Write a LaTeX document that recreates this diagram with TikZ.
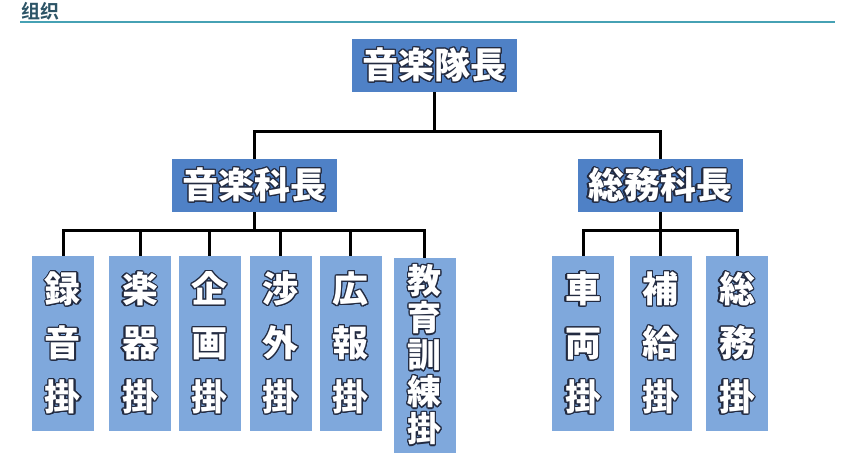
\documentclass[tikz,border=0pt]{standalone}
\usepackage{fontspec}
\usepackage[copies]{contour}
\newfontfamily\jpfont{Noto Sans CJK JP Black}
\newfontfamily\scfont{Noto Sans CJK SC Bold}
\definecolor{headblue}{HTML}{4F81C6}
\definecolor{leafblue}{HTML}{7FA8DC}
\definecolor{rimcol}{HTML}{222A40}
\definecolor{rulecol}{HTML}{46A1B4}
\definecolor{titlecol}{HTML}{2C5466}
\contourlength{1.3pt}
\newcommand\hl[1]{\contour{rimcol}{#1}}

\begin{document}
\begin{tikzpicture}[x=1pt,y=-1pt,
  head/.style={fill=headblue,text=white,font=\jpfont\fontsize{36}{36}\selectfont,
    minimum width=165pt,minimum height=53pt,inner sep=0pt},
  leaf/.style={fill=leafblue,text=white,minimum width=62pt,inner sep=0pt,align=center},
  link/.style={line width=3pt}]
\useasboundingbox (0,0) rectangle (868,461);
\node[text=titlecol,font=\scfont\fontsize{19}{19}\selectfont,anchor=west,inner sep=0pt] (title) at (21,11) {组织};
\draw[rulecol,line width=2pt] (20,22) -- (835,22);
\node[head] (chief) at (434.5,65.5) {\hl{音楽隊長}};
\node[head] (music) at (254.5,185.5) {\hl{音楽科長}};
\node[head] (admin) at (660,185.5) {\hl{総務科長}};
\foreach \nm/\x/\a/\b/\c in {rec/63/録/音/掛,inst/140/楽/器/掛,plan/209.5/企/画/掛,
    liais/280.5/渉/外/掛,pr/350.5/広/報/掛,car/583/車/両/掛,supp/660.5/補/給/掛,gen/737/総/務/掛}
  \node[leaf,minimum height=175pt,font=\jpfont\fontsize{36}{54}\selectfont] (\nm) at (\x,343.5)
    {\hl{\a}\\\hl{\b}\\\hl{\c}};
\node[leaf,minimum height=195pt,font=\jpfont\fontsize{34}{37}\selectfont] (edu) at (424.5,355.5)
  {\hl{教}\\\hl{育}\\\hl{訓}\\\hl{練}\\\hl{掛}};
\coordinate (upbar) at (0,131);
\coordinate (lowbar) at (0,230.5);
\draw[link] (chief.south) -- (chief.south |- upbar) -| (music.north);
\draw[link] (chief.south |- upbar) -| (admin.north);
\foreach \nm in {rec,inst,plan,liais,pr,edu}
  \draw[link] (music.south) -- (music.south |- lowbar) -| (\nm.north);
\foreach \nm in {car,supp,gen}
  \draw[link] (admin.south) -- (admin.south |- lowbar) -| (\nm.north);
\end{tikzpicture}
\end{document}
